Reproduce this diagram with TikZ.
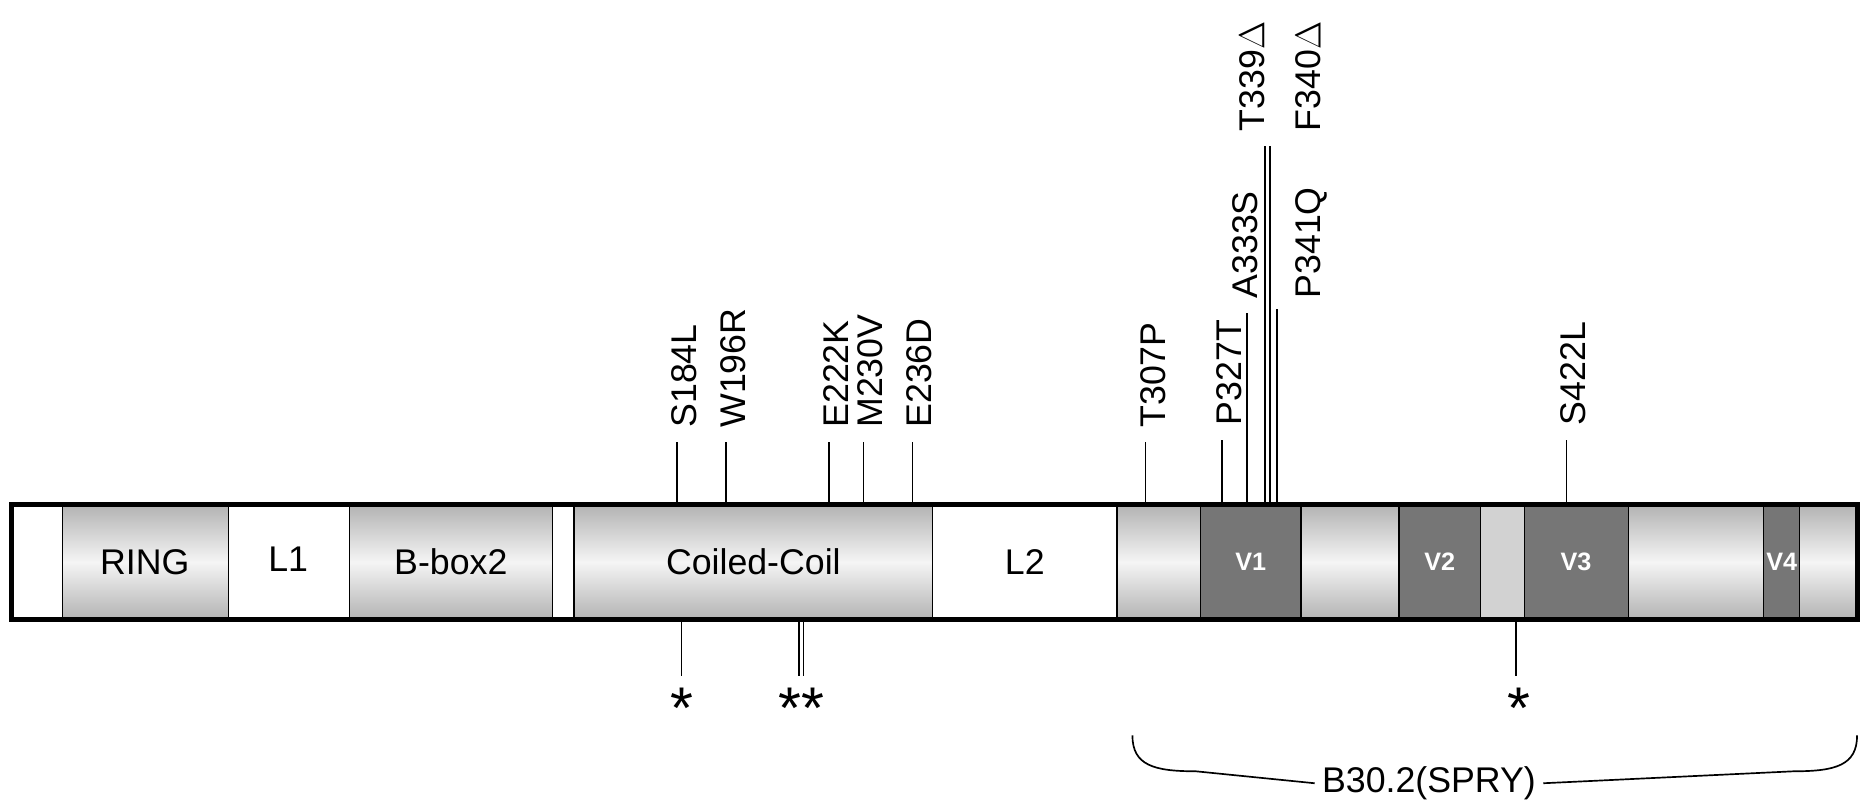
\documentclass[tikz,border=0pt]{standalone}
\usepackage{fontspec}
\setmainfont{Liberation Sans}
\usetikzlibrary{positioning}
\definecolor{vgray}{RGB}{118,118,118}
\tikzset{
  seg/.style={draw=black, line width=0.6pt, top color=gray!60, bottom color=gray!60, middle color=gray!8},
  plain/.style={draw=black, line width=0.6pt, fill=white},
  var/.style={draw=black, line width=0.6pt, fill=vgray},
  mut/.style={rotate=90, anchor=west, inner sep=0pt, font=\fontsize{17}{17}\selectfont},
  dom/.style={font=\fontsize{17}{17}\selectfont},
  vlab/.style={font=\bfseries\fontsize{12}{12}\selectfont, text=white},
  star/.style={font=\fontsize{28}{28}\selectfont}
}
\begin{document}
\begin{tikzpicture}[x=0.02cm, y=-0.02cm]
    \useasboundingbox (0,0) rectangle (1568,669);

    % Domains
    \draw[plain] (10,422) rectangle (52,518);
    \draw[seg] (52,422) rectangle (191,518);
    \draw[plain] (191,422) rectangle (292,518);
    \draw[seg] (292,422) rectangle (462,518);
    \draw[plain] (462,422) rectangle (480,518);
    \draw[seg] (480,422) rectangle (780,518);
    \draw[plain] (780,422) rectangle (934,518);
    \draw[seg] (934,422) rectangle (1553,518);
    \draw[seg, top color=gray!35, bottom color=gray!35] (1238,422) rectangle (1275,518);
    \draw[var] (1004,422) rectangle (1088,518);
    \draw[var] (1170,422) rectangle (1238,518);
    \draw[var] (1275,422) rectangle (1362,518);
    \draw[var] (1475,422) rectangle (1505,518);
    \draw[line width=2.4pt] (10,422) rectangle (1553,518);

    \node[dom] (ring) at (121,470) {RING};
    \node[dom] (l1) at (241,468) {L1};
    \node[dom] (bbox) at (377,470) {B-box2};
    \node[dom] (cc) at (630,470) {Coiled-Coil};
    \node[dom] (l2) at (857,470) {L2};
    \node[vlab] (v1) at (1046,470) {V1};
    \node[vlab] (v2) at (1204,470) {V2};
    \node[vlab] (v3) at (1318,470) {V3};
    \node[vlab] (v4) at (1490,470) {V4};

    % Mutations above
    \foreach \x/\top/\name in {566/370/S184L, 607/370/W196R, 693/370/E222K,
        722/370/M230V, 763/370/E236D, 958/370/T307P, 1022/368/P327T,
        1310/368/S422L}{
      \draw[line width=0.8pt] (\x,422) -- (\x,\top);
      \node[mut] (\name) at (\x+6,\top-12) {\name};
    }
    \draw[line width=0.8pt] (1043,422) -- (1043,262);
    \draw[line width=0.8pt] (1058,422) -- (1058,122);
    \draw[line width=0.8pt] (1062,422) -- (1062,122);
    \draw[line width=0.8pt] (1068,422) -- (1068,258);
    \node[mut] (A333S) at (1041,250) {A333S};
    \node[mut] (P341Q) at (1097,250) {P341Q};
    \node[mut] (T339) at (1047,110) {T339$\Delta$};
    \node[mut] (F340) at (1094,110) {F340$\Delta$};

    % Mutations below
    \draw[line width=0.8pt] (570,518) -- (570,565);
    \draw[line width=0.8pt] (668,518) -- (668,565);
    \draw[line width=0.8pt] (672,518) -- (672,565);
    \draw[line width=0.8pt] (1268,518) -- (1268,565);
    \node[star] (s1) at (570,592) {*};
    \node[star] (s2) at (670,592) {**};
    \node[star] (s3) at (1270,592) {*};

    % SPRY brace
    \node[dom] (spry) at (1195,655) {B30.2(SPRY)};
    \draw[line width=0.8pt] (947,615) .. controls (947,640) and (965,645) .. (1000,645) -- (spry.west);
    \draw[line width=0.8pt] (spry.east) -- (1500,645) .. controls (1535,645) and (1553,640) .. (1553,615);
\end{tikzpicture}
\end{document}
